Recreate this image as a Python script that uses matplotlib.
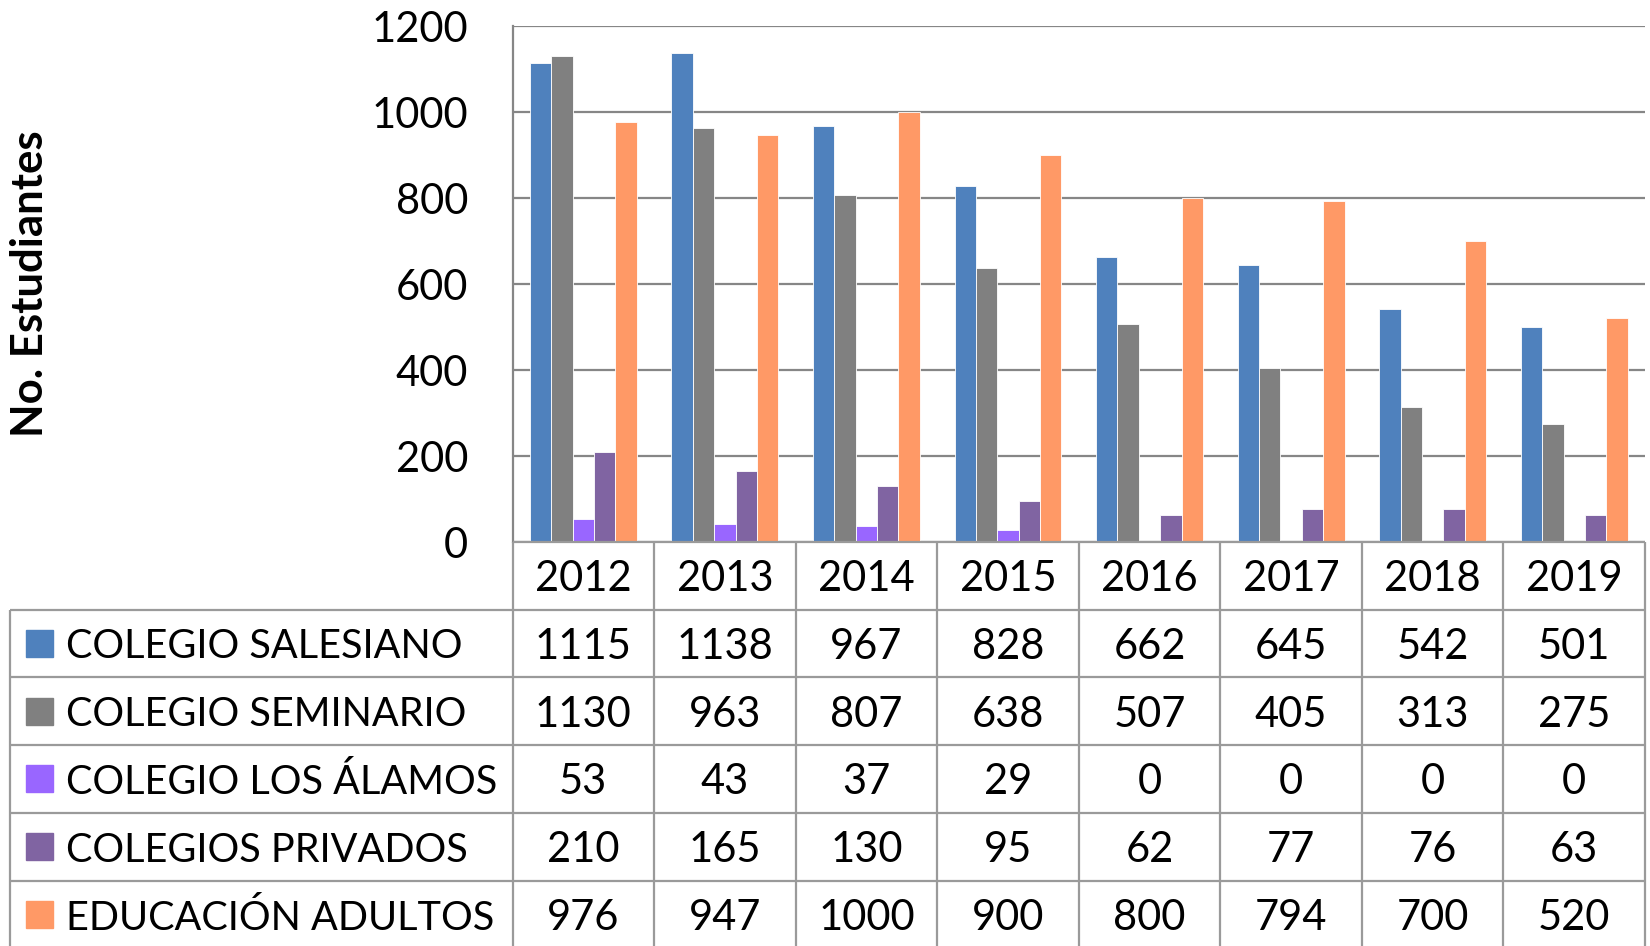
import numpy as np
import matplotlib.pyplot as plt
from matplotlib.patches import Rectangle

plt.rcParams['font.family'] = ['Lato', 'DejaVu Sans']

# ---- data ----
years = ['2012', '2013', '2014', '2015', '2016', '2017', '2018', '2019']
series_names = ['COLEGIO SALESIANO', 'COLEGIO SEMINARIO', 'COLEGIO LOS ÁLAMOS',
                'COLEGIOS PRIVADOS', 'EDUCACIÓN ADULTOS']
salesiano = [1115, 1138, 967, 828, 662, 645, 542, 501]
seminario = [1130, 963, 807, 638, 507, 405, 313, 275]
alamos = [53, 43, 37, 29, 0, 0, 0, 0]
privados = [210, 165, 130, 95, 62, 77, 76, 63]
adultos = [976, 947, 1000, 900, 800, 794, 700, 520]
series = [salesiano, seminario, alamos, privados, adultos]
colors = ['#4F81BD', '#808080', '#9966FF', '#8064A2', '#FF9966']

# ---- layout (pixels) ----
W, H = 1650, 946
plot_left, plot_right = 512.5, 1645
plot_top, plot_bottom = 26, 542
row_h = 67.7
table_left = 10.5
grid_col = '#868686'
tab_col = '#9a9a9a'
fs = 30
dy = 0.05  # nudge table text down to centre the glyphs

fig = plt.figure(figsize=(W / 100, H / 100), dpi=100)

ax = fig.add_axes([plot_left / W, 1 - plot_bottom / H,
                   (plot_right - plot_left) / W, (plot_bottom - plot_top) / H])
n = len(years)
x = np.arange(n)
bw = 0.151
for i, (vals, c) in enumerate(zip(series, colors)):
    ax.bar(x + (i - 2) * bw, vals, bw, color=c, edgecolor='white',
           linewidth=0.6, zorder=3)
ax.set_xlim(-0.5, n - 0.5)
ax.set_ylim(0, 1200)
ax.set_yticks(range(0, 1201, 200))
ax.set_xticks([])
ax.yaxis.grid(True, color=grid_col, linewidth=1.6)
ax.set_axisbelow(True)
for s in ['top', 'right', 'bottom']:
    ax.spines[s].set_visible(False)
ax.spines['left'].set_color(grid_col)
ax.spines['left'].set_linewidth(1.6)
ax.tick_params(axis='y', length=0, pad=32, labelsize=fs)

fig.text(30 / W, 1 - 284 / H, 'No. Estudiantes', rotation=90, ha='center',
         va='center', fontsize=31.5, fontweight='bold')

# ---- data table ----
col_w = (plot_right - plot_left) / n
lab_w = (plot_left - table_left) / col_w
tax = fig.add_axes([table_left / W, 1 - (plot_bottom + 6 * row_h) / H,
                    (plot_right - table_left) / W, 6 * row_h / H])
xmin = -0.5 - lab_w
tax.set_xlim(xmin, n - 0.5)
tax.set_ylim(6, 0)
tax.axis('off')

for i in range(n + 1):
    tax.vlines(i - 0.5, 0, 6, color=tab_col, lw=1.6, clip_on=False)
tax.vlines(xmin, 1, 6, color=tab_col, lw=1.6, clip_on=False)
tax.hlines(0, -0.5, n - 0.5, color=tab_col, lw=1.6, clip_on=False)
for k in range(1, 7):
    tax.hlines(k, xmin, n - 0.5, color=tab_col, lw=1.6, clip_on=False)

for j, yr in enumerate(years):
    tax.text(j, 0.5 + dy, yr, ha='center', va='center', fontsize=fs)

sq = 27
for k, (name, vals, c) in enumerate(zip(series_names, series, colors)):
    yc = k + 1.5
    tax.add_patch(Rectangle((xmin + 15.5 / col_w, yc - sq / 2 / row_h),
                            sq / col_w, sq / row_h, color=c, clip_on=False))
    tax.text(xmin + 55 / col_w, yc + dy, name, ha='left', va='center',
             fontsize=28.5)
    for j, v in enumerate(vals):
        tax.text(j, yc + dy, str(v), ha='center', va='center', fontsize=fs)

fig.savefig('out.png', dpi=100)
